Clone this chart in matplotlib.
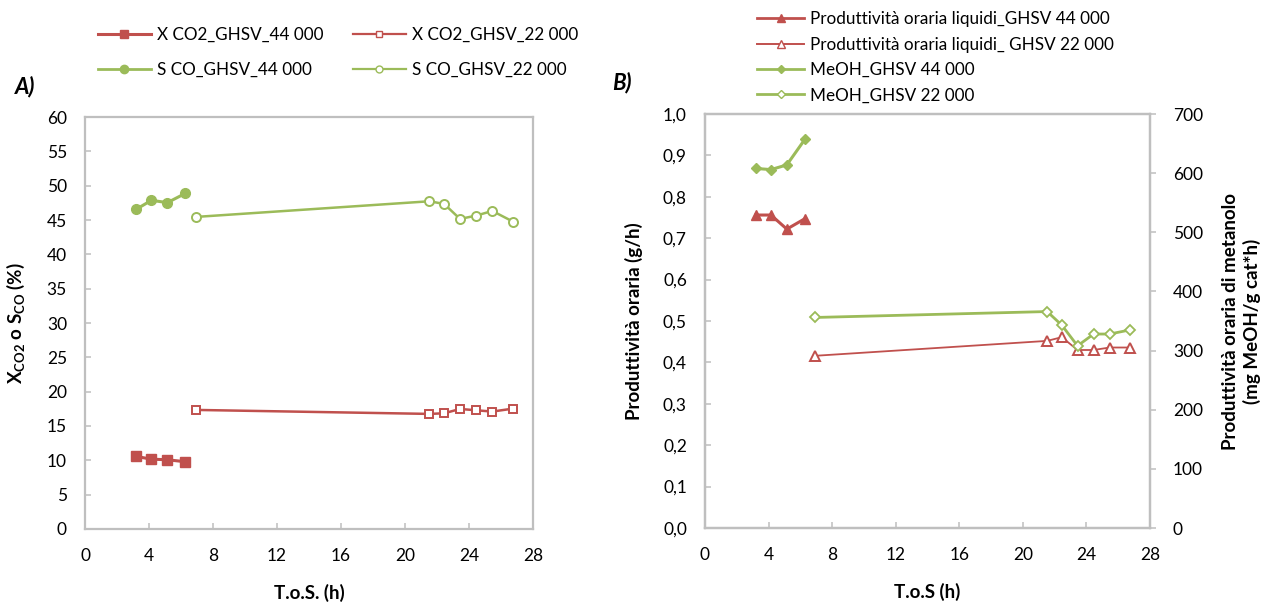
import matplotlib
matplotlib.use("Agg")
import matplotlib.pyplot as plt
from matplotlib.lines import Line2D
from matplotlib.ticker import FuncFormatter, MultipleLocator

plt.rcParams['font.family'] = ['Lato', 'DejaVu Sans']
plt.rcParams['mathtext.fontset'] = 'custom'
plt.rcParams['mathtext.rm'] = 'Lato'
plt.rcParams['mathtext.bf'] = 'Lato:bold'
plt.rcParams['mathtext.it'] = 'Lato:italic'

RED = '#C0504D'
GREEN = '#9BBB59'
GRAY = '#BFBFBF'

# time on stream (h) for the two space velocities
tos_44 = [3.2, 4.15, 5.15, 6.28]
tos_22 = [6.93, 21.53, 22.45, 23.44, 24.45, 25.46, 26.75]

# panel A: CO2 conversion and CO selectivity (%)
x_co2_44 = [10.56, 10.17, 10.08, 9.79]
x_co2_22 = [17.34, 16.76, 16.85, 17.48, 17.29, 17.10, 17.53]
s_co_44 = [46.56, 47.87, 47.53, 48.89]
s_co_22 = [45.45, 47.73, 47.34, 45.16, 45.64, 46.32, 44.77]

# panel B: hourly liquid productivity (g/h) and methanol (mg MeOH/g cat*h)
liq_44 = [0.756, 0.756, 0.722, 0.747]
liq_22 = [0.416, 0.452, 0.461, 0.430, 0.430, 0.436, 0.436]
meoh_44 = [608, 606, 614, 657]
meoh_22 = [356, 366, 343, 308, 328, 328, 335]

x_ticks = [0, 4, 8, 12, 16, 20, 24, 28]


def style_axes(ax):
    for s in ax.spines.values():
        s.set_color(GRAY)
        s.set_linewidth(1.6)
    ax.tick_params(colors=GRAY, labelcolor='black', labelsize=12.5,
                   width=1.1, length=4.5, direction='in')
    ax.tick_params(axis='y', pad=13)
    ax.tick_params(axis='x', pad=14)
    ax.set_xlim(0, 28)
    ax.set_xticks(x_ticks)


fig = plt.figure(figsize=(12.65, 6.02), dpi=100)

# ---- panel A ----
axA = fig.add_axes([0.0672, 0.1213, 0.3541, 0.6843])
style_axes(axA)
axA.set_ylim(0, 60)
axA.yaxis.set_major_locator(MultipleLocator(5))
axA.plot(tos_44, x_co2_44, color=RED, lw=2.2, marker='s', ms=7, mfc=RED, mec=RED)
axA.plot(tos_22, x_co2_22, color=RED, lw=1.8, marker='s', ms=6, mfc='white', mec=RED, mew=1.4)
axA.plot(tos_44, s_co_44, color=GREEN, lw=2.2, marker='o', ms=7, mfc=GREEN, mec=GREEN)
axA.plot(tos_22, s_co_22, color=GREEN, lw=1.8, marker='o', ms=6.5, mfc='white', mec=GREEN, mew=1.4)
axA.set_xlabel('T.o.S. (h)', fontsize=13.5, fontweight='bold', labelpad=14)
axA.set_ylabel(r'X$_{\mathbf{CO2}}$ o S$_{\mathbf{CO}}$ (%)', fontsize=13.5,
               fontweight='bold', labelpad=14)

handlesA = [
    Line2D([], [], color=RED, lw=2.2, marker='s', ms=6, mfc=RED, mec=RED),
    Line2D([], [], color=RED, lw=1.6, marker='s', ms=5, mfc='white', mec=RED),
    Line2D([], [], color=GREEN, lw=2.0, marker='o', ms=6, mfc=GREEN, mec=GREEN),
    Line2D([], [], color=GREEN, lw=1.6, marker='o', ms=5, mfc='white', mec=GREEN),
]
labelsA = ['X CO2_GHSV_44 000', 'S CO_GHSV_44 000',
           'X CO2_GHSV_22 000', 'S CO_GHSV_22 000']
fig.legend([handlesA[0], handlesA[2], handlesA[1], handlesA[3]], labelsA,
           loc='upper left', bbox_to_anchor=(0.065, 0.981), ncol=2, frameon=False,
           fontsize=12.3, handlelength=3.1, handletextpad=0.35,
           columnspacing=1.75, labelspacing=1.1)
fig.text(0.012, 1 - 87 / 602, 'A)', fontsize=16, fontweight='bold',
         fontstyle='italic', va='center', ha='left')

# ---- panel B ----
axB = fig.add_axes([0.5573, 0.1229, 0.3518, 0.6877])
style_axes(axB)
axB.set_ylim(0, 1.0)
axB.yaxis.set_major_locator(MultipleLocator(0.1))
axB.yaxis.set_major_formatter(FuncFormatter(lambda v, p: f'{v:.1f}'.replace('.', ',')))
axB.plot(tos_44, liq_44, color=RED, lw=2.2, marker='^', ms=7.5, mfc=RED, mec=RED)
axB.plot(tos_22, liq_22, color=RED, lw=1.3, marker='^', ms=7, mfc='white', mec=RED, mew=1.4)
axB.set_xlabel('T.o.S (h)', fontsize=13.5, fontweight='bold', labelpad=14)
axB.set_ylabel('Produttività oraria (g/h)', fontsize=13.5, fontweight='bold', labelpad=14)

axB2 = axB.twinx()
axB2.set_xlim(0, 28)
axB2.set_ylim(0, 700)
axB2.yaxis.set_major_locator(MultipleLocator(100))
for s in axB2.spines.values():
    s.set_color(GRAY)
    s.set_linewidth(1.6)
axB2.tick_params(axis='y', colors=GRAY, labelcolor='black', labelsize=12.5,
                 width=1.1, length=4.5, direction='out', pad=12)
axB2.plot(tos_44, meoh_44, color=GREEN, lw=2.2, marker='D', ms=5.5, mfc=GREEN, mec=GREEN)
axB2.plot(tos_22, meoh_22, color=GREEN, lw=2.0, marker='D', ms=5.5, mfc='white', mec=GREEN, mew=1.3)
axB2.set_ylabel('Produttività oraria di metanolo\n(mg MeOH/g cat*h)', fontsize=13.5,
                fontweight='bold', labelpad=14, linespacing=1.2)

handlesB = [
    Line2D([], [], color=RED, lw=2.0, marker='^', ms=6, mfc=RED, mec=RED),
    Line2D([], [], color=RED, lw=1.4, marker='^', ms=5.5, mfc='white', mec=RED),
    Line2D([], [], color=GREEN, lw=2.0, marker='D', ms=4.5, mfc=GREEN, mec=GREEN),
    Line2D([], [], color=GREEN, lw=2.0, marker='D', ms=4.5, mfc='white', mec=GREEN),
]
labelsB = ['Produttività oraria liquidi_GHSV 44 000',
           'Produttività oraria liquidi_ GHSV 22 000',
           'MeOH_GHSV 44 000', 'MeOH_GHSV 22 000']
fig.legend(handlesB, labelsB, loc='upper left', bbox_to_anchor=(0.586, 1.007),
           frameon=False, fontsize=12.3, handlelength=2.8, handletextpad=0.35,
           labelspacing=0.55)
fig.text(0.484, 1 - 83 / 602, 'B)', fontsize=16, fontweight='bold',
         fontstyle='italic', va='center', ha='left')

fig.savefig('out.png', dpi=100)
